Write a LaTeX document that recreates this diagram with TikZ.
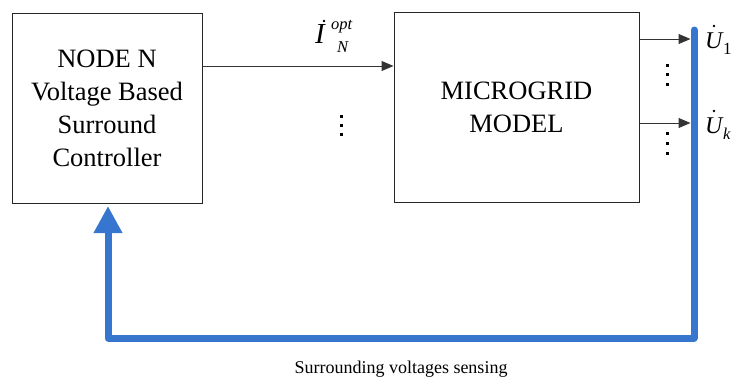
\documentclass[tikz,border=0pt]{standalone}
\usepackage{fontspec}
\setmainfont{Liberation Serif}
\usetikzlibrary{arrows.meta}
\definecolor{busblue}{RGB}{54,118,206}
\tikzset{
  blockbox/.style={draw=black!85, line width=1pt, align=center,
    font=\rmfamily\fontsize{26.5}{33}\selectfont},
  signal/.style={draw=black!80, line width=1pt,
    -{Triangle[length=12pt,width=10pt]}},
  bus/.style={draw=busblue, line width=7pt, line cap=round, line join=round},
  feedback/.style={bus, -{Triangle[length=27pt,width=27pt]}},
  dotmark/.style={fill=black, minimum size=3pt, inner sep=0pt, outer sep=0pt},
  accentdot/.style={circle, fill=black, minimum size=2.6pt, inner sep=0pt},
  symbig/.style={inner sep=0pt, anchor=base west,
    font=\rmfamily\itshape\fontsize{24}{24}\selectfont},
  symsmall/.style={inner sep=0pt, anchor=base west,
    font=\rmfamily\itshape\fontsize{16.5}{16.5}\selectfont},
}
\begin{document}
\begin{tikzpicture}[x=1pt,y=-1pt]
\useasboundingbox (0,0) rectangle (736,381);

% blocks
\node[blockbox, minimum width=190pt, minimum height=190pt] (ctrl) at (107,108)
  {NODE N\\Voltage Based\\Surround\\Controller};
\node[blockbox, minimum width=245pt, minimum height=190pt] (grid) at (516.5,107)
  {MICROGRID\\MODEL};

% measurement bus and feedback
\coordinate (busTop) at (694,30);
\coordinate (busBot) at (694,338);
\coordinate (fbCorner) at (108,338);
\coordinate (fbTip) at (108,206);
\draw[bus] (busTop) -- (busBot);
\draw[feedback] (busBot) -- (fbCorner) -- (fbTip);

% current reference into the microgrid
\coordinate (iIn) at (202,66);
\draw[signal] (ctrl.east |- iIn) -- (grid.west |- iIn);
\node[symbig, font=\rmfamily\itshape\fontsize{29}{29}\selectfont] (ilbl) at (315,43) {I};
\node[accentdot] (idot) at (324,21) {};
\node[symsmall] (isup) at (331,29) {opt};
\node[symsmall] (isub) at (337,52) {N};

% node voltages out of the microgrid
\coordinate (uOne) at (690.5,39);
\coordinate (uK) at (690.5,123);
\draw[signal] (grid.east |- uOne) -- (uOne);
\draw[signal] (grid.east |- uK) -- (uK);
\node[symbig] (uone) at (705,48) {U};
\node[accentdot] (uonedot) at (714,26) {};
\node[symsmall, font=\rmfamily\fontsize{17}{17}\selectfont] (uonesub) at (723,54) {1};
\node[symbig] (uk) at (705,133) {U};
\node[accentdot] (ukdot) at (714,111) {};
\node[symsmall] (uksub) at (723,139) {k};

% ellipsis dots
\foreach \y [count=\i] in {116,125,134}
  \node[dotmark] (dm\i) at (341,\y) {};
\foreach \y [count=\i] in {65,74.5,84}
  \node[dotmark] (da\i) at (667,\y) {};
\foreach \y [count=\i] in {133,143,153}
  \node[dotmark] (db\i) at (667,\y) {};

% caption
\node[anchor=base, inner sep=0pt, font=\rmfamily\fontsize{18}{18}\selectfont] (cap)
  at (401,373) {Surrounding voltages sensing};
\end{tikzpicture}
\end{document}
